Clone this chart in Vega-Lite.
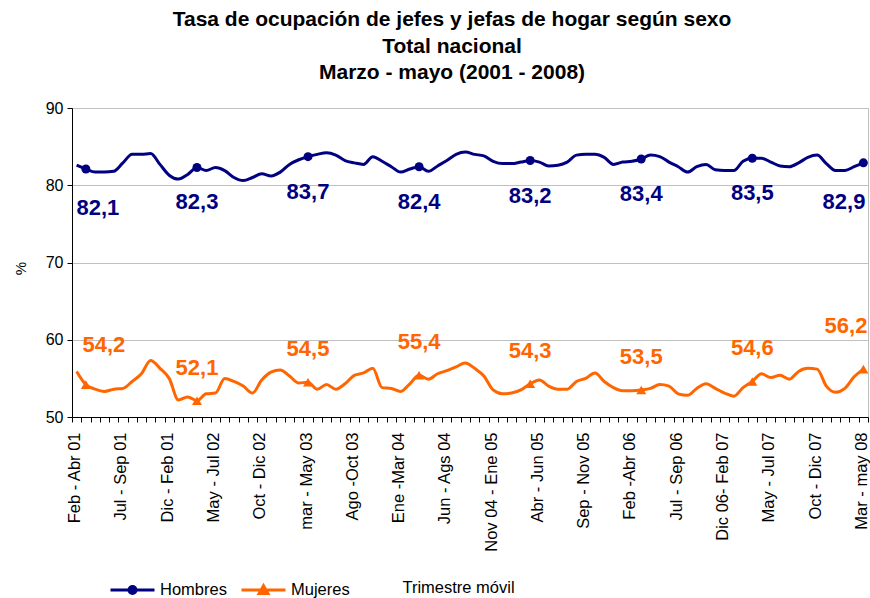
{
  "$schema": "https://vega.github.io/schema/vega-lite/v6.json",
  "width": 796,
  "height": 309,
  "autosize": {"type": "none"},
  "padding": {"left": 72, "top": 108, "right": 2, "bottom": 181},
  "config": {
    "locale": {"number": {"decimal": ",", "thousands": ".", "grouping": [3], "currency": ["", ""]}},
    "font": "Liberation Sans, Arial, sans-serif",
    "view": {"stroke": "#c0c0c0", "strokeWidth": 1},
    "axis": {"labelColor": "#000", "titleColor": "#000", "domainColor": "#000", "tickColor": "#000", "titleFontWeight": "normal"}
  },
  "title": {
    "text": ["Tasa de ocupación de jefes y jefas de hogar según sexo", "Total nacional", "Marzo - mayo (2001 - 2008)"],
    "fontSize": 21, "fontWeight": "bold", "lineHeight": 26.5, "anchor": "middle", "frame": "group", "dx": -18, "offset": 17, "color": "#000"
  },
  "data": {"values": [
    {"periodo": "Feb - Abr 01", "Hombres": 82.6, "Mujeres": 55.9},
    {"periodo": "Mar - May 01", "Hombres": 82.1, "Mujeres": 54.2},
    {"periodo": "Abr - Jun 01", "Hombres": 81.7, "Mujeres": 53.6},
    {"periodo": "May - Jul 01", "Hombres": 81.7, "Mujeres": 53.3},
    {"periodo": "Jun - Ago 01", "Hombres": 81.8, "Mujeres": 53.6},
    {"periodo": "Jul - Sep 01", "Hombres": 82.9, "Mujeres": 53.7},
    {"periodo": "Ago - Oct 01", "Hombres": 84.0, "Mujeres": 54.6},
    {"periodo": "Sep - Nov 01", "Hombres": 84.0, "Mujeres": 55.6},
    {"periodo": "Oct - Dic 01", "Hombres": 84.1, "Mujeres": 57.3},
    {"periodo": "Nov 01 - Ene 02", "Hombres": 82.7, "Mujeres": 56.3},
    {"periodo": "Dic - Feb 01", "Hombres": 81.3, "Mujeres": 55.0},
    {"periodo": "Ene - Mar 02", "Hombres": 80.8, "Mujeres": 52.2},
    {"periodo": "Feb - Abr 02", "Hombres": 81.4, "Mujeres": 52.6},
    {"periodo": "Mar - May 02", "Hombres": 82.3, "Mujeres": 52.1},
    {"periodo": "Abr - Jun 02", "Hombres": 81.9, "Mujeres": 53.0},
    {"periodo": "May - Jul 02", "Hombres": 82.3, "Mujeres": 53.1},
    {"periodo": "Jun - Ago 02", "Hombres": 81.9, "Mujeres": 55.0},
    {"periodo": "Jul - Sep 02", "Hombres": 81.0, "Mujeres": 54.6},
    {"periodo": "Ago - Oct 02", "Hombres": 80.6, "Mujeres": 54.0},
    {"periodo": "Sep - Nov 02", "Hombres": 81.0, "Mujeres": 53.1},
    {"periodo": "Oct - Dic 02", "Hombres": 81.5, "Mujeres": 54.8},
    {"periodo": "Nov 02 - Ene 03", "Hombres": 81.2, "Mujeres": 55.8},
    {"periodo": "Dic 02 - Feb 03", "Hombres": 81.7, "Mujeres": 56.1},
    {"periodo": "Ene - Mar 03", "Hombres": 82.7, "Mujeres": 55.3},
    {"periodo": "Feb - Abr 03", "Hombres": 83.3, "Mujeres": 54.4},
    {"periodo": "mar - May 03", "Hombres": 83.7, "Mujeres": 54.5},
    {"periodo": "Abr - Jun 03", "Hombres": 84.0, "Mujeres": 53.6},
    {"periodo": "May - Jul 03", "Hombres": 84.2, "Mujeres": 54.2},
    {"periodo": "Jun - Ago 03", "Hombres": 83.9, "Mujeres": 53.6},
    {"periodo": "Jul - Sep 03", "Hombres": 83.2, "Mujeres": 54.3},
    {"periodo": "Ago -Oct 03", "Hombres": 82.9, "Mujeres": 55.4},
    {"periodo": "Sep - Nov 03", "Hombres": 82.7, "Mujeres": 55.7},
    {"periodo": "Oct - Dic 03", "Hombres": 83.7, "Mujeres": 56.3},
    {"periodo": "Nov 03 - Ene 04", "Hombres": 83.1, "Mujeres": 53.8},
    {"periodo": "Dic 03 - Feb 04", "Hombres": 82.4, "Mujeres": 53.7},
    {"periodo": "Ene -Mar 04", "Hombres": 81.7, "Mujeres": 53.3},
    {"periodo": "Feb - Abr 04", "Hombres": 82.1, "Mujeres": 54.3},
    {"periodo": "Mar - May 04", "Hombres": 82.4, "Mujeres": 55.4},
    {"periodo": "Abr - Jun 04", "Hombres": 81.8, "Mujeres": 54.9},
    {"periodo": "May - Jul 04", "Hombres": 82.5, "Mujeres": 55.6},
    {"periodo": "Jun - Ags 04", "Hombres": 83.2, "Mujeres": 56.0},
    {"periodo": "Jul - Sep 04", "Hombres": 84.0, "Mujeres": 56.5},
    {"periodo": "Ago - Oct 04", "Hombres": 84.3, "Mujeres": 57.0},
    {"periodo": "Sep - Nov 04", "Hombres": 84.0, "Mujeres": 56.3},
    {"periodo": "Oct - Dic 04", "Hombres": 83.8, "Mujeres": 55.3},
    {"periodo": "Nov 04 - Ene 05", "Hombres": 83.1, "Mujeres": 53.5},
    {"periodo": "Dic 04 - Feb 05", "Hombres": 82.8, "Mujeres": 53.0},
    {"periodo": "Ene - Mar 05", "Hombres": 82.8, "Mujeres": 53.1},
    {"periodo": "Feb - Abr 05", "Hombres": 83.0, "Mujeres": 53.5},
    {"periodo": "Mar - May 05", "Hombres": 83.2, "Mujeres": 54.3},
    {"periodo": "Abr - Jun 05", "Hombres": 83.0, "Mujeres": 54.8},
    {"periodo": "May - Jul 05", "Hombres": 82.5, "Mujeres": 54.0},
    {"periodo": "Jun - Ago 05", "Hombres": 82.6, "Mujeres": 53.6},
    {"periodo": "Jul - Sep 05", "Hombres": 83.0, "Mujeres": 53.6},
    {"periodo": "Ago - Oct 05", "Hombres": 83.9, "Mujeres": 54.6},
    {"periodo": "Sep - Nov 05", "Hombres": 84.0, "Mujeres": 55.0},
    {"periodo": "Oct - Dic 05", "Hombres": 84.0, "Mujeres": 55.7},
    {"periodo": "Nov 05 - Ene 06", "Hombres": 83.6, "Mujeres": 54.6},
    {"periodo": "Dic 05 - Feb 06", "Hombres": 82.7, "Mujeres": 53.8},
    {"periodo": "Ene - Mar 06", "Hombres": 83.0, "Mujeres": 53.4},
    {"periodo": "Feb -Abr 06", "Hombres": 83.1, "Mujeres": 53.4},
    {"periodo": "Mar - May 06", "Hombres": 83.4, "Mujeres": 53.5},
    {"periodo": "Abr - Jun 06", "Hombres": 83.9, "Mujeres": 53.7},
    {"periodo": "May - Jul 06", "Hombres": 83.7, "Mujeres": 54.2},
    {"periodo": "Jun - Ago 06", "Hombres": 83.0, "Mujeres": 54.0},
    {"periodo": "Jul - Sep 06", "Hombres": 82.4, "Mujeres": 53.0},
    {"periodo": "Ago - Oct 06", "Hombres": 81.7, "Mujeres": 52.8},
    {"periodo": "Sep - Nov 06", "Hombres": 82.4, "Mujeres": 53.7},
    {"periodo": "Oct - Dic 06", "Hombres": 82.7, "Mujeres": 54.3},
    {"periodo": "Nov 06 - Ene 07", "Hombres": 82.0, "Mujeres": 53.7},
    {"periodo": "Dic  06- Feb 07", "Hombres": 81.9, "Mujeres": 53.1},
    {"periodo": "Ene - Mar 07", "Hombres": 81.9, "Mujeres": 52.7},
    {"periodo": "Feb - Abr 07", "Hombres": 83.1, "Mujeres": 53.8},
    {"periodo": "Mar - May 07", "Hombres": 83.5, "Mujeres": 54.6},
    {"periodo": "Abr - Jun 07", "Hombres": 83.5, "Mujeres": 55.6},
    {"periodo": "May - Jul 07", "Hombres": 83.0, "Mujeres": 55.1},
    {"periodo": "Jun - Ago 07", "Hombres": 82.5, "Mujeres": 55.4},
    {"periodo": "Jul - Sep 07", "Hombres": 82.4, "Mujeres": 54.9},
    {"periodo": "Ago - Oct 07", "Hombres": 82.9, "Mujeres": 55.9},
    {"periodo": "Sep - Nov 07", "Hombres": 83.6, "Mujeres": 56.3},
    {"periodo": "Oct - Dic 07", "Hombres": 83.9, "Mujeres": 56.2},
    {"periodo": "Nov 07 - Ene 08", "Hombres": 82.8, "Mujeres": 54.0},
    {"periodo": "Dic 07 - Feb 08", "Hombres": 81.9, "Mujeres": 53.2},
    {"periodo": "Ene - Mar 08", "Hombres": 81.9, "Mujeres": 53.7},
    {"periodo": "Feb - Abr 08", "Hombres": 82.4, "Mujeres": 55.2},
    {"periodo": "Mar - may 08", "Hombres": 82.9, "Mujeres": 56.2}
  ]},
  "transform": [{"fold": ["Hombres", "Mujeres"], "as": ["sexo", "valor"]}],
  "encoding": {
    "x": {
      "field": "periodo", "type": "ordinal", "sort": null,
      "scale": {"type": "band", "paddingInner": 0, "paddingOuter": 0},
      "axis": {
        "title": "Trimestre móvil", "titleFontSize": 16.5, "titleX": 386, "titleY": 170, "titleBaseline": "middle", "titleAlign": "center", "titleAnchor": null,
        "labelAngle": -90, "labelAlign": "right", "labelBaseline": "middle", "labelFontSize": 16.5, "labelPadding": 10, "labelOffset": -2, "labelOverlap": false, "labelBound": false, "labelFlush": false,
        "labelExpr": "indexof(['Feb - Abr 01','Jul - Sep 01','Dic - Feb 01','May - Jul 02','Oct - Dic 02','mar - May 03','Ago -Oct 03','Ene -Mar 04','Jun - Ags 04','Nov 04 - Ene 05','Abr - Jun 05','Sep - Nov 05','Feb -Abr 06','Jul - Sep 06','Dic  06- Feb 07','May - Jul 07','Oct - Dic 07','Mar - may 08'], datum.value) >= 0 ? datum.value : ''",
        "tickBand": "extent", "tickSize": 5, "grid": false
      }
    },
    "y": {
      "field": "valor", "type": "quantitative",
      "scale": {"domain": [50, 90], "nice": false, "zero": false},
      "axis": {
        "title": "%", "titleFontSize": 15, "titleX": -52, "titleY": 160, "titleAngle": -90, "titleAlign": "center", "titleBaseline": "middle",
        "values": [50, 60, 70, 80, 90], "labelFontSize": 16, "labelPadding": 4, "tickSize": 5, "grid": true, "gridColor": "#c0c0c0", "gridWidth": 1
      }
    },
    "color": {"field": "sexo", "type": "nominal", "scale": {"domain": ["Hombres", "Mujeres"], "range": ["#000080", "#FF6600"]}, "legend": null}
  },
  "layer": [
    {
      "mark": {"type": "line", "strokeWidth": 3, "interpolate": "monotone", "strokeJoin": "round"},
      "encoding": {
        "color": {
          "field": "sexo", "type": "nominal",
          "scale": {"domain": ["Hombres", "Mujeres"], "range": ["#000080", "#FF6600"]},
          "legend": {
            "title": null, "orient": "none", "legendX": 37, "legendY": 458, "direction": "horizontal",
            "symbolSize": 1936, "symbolStrokeWidth": 3, "labelFontSize": 16.5, "labelOffset": 4, "columnPadding": 8, "labelColor": "#000", "padding": 0,
            "encode": {"symbols": {"update": {
              "shape": {"signal": "datum.value === 'Hombres' ? 'M-1,0H1M-0.16,0A0.16,0.16,0,1,0,0.16,0A0.16,0.16,0,1,0,-0.16,0Z' : 'M-1,0H1M0,-0.2L0.2,0.15L-0.2,0.15Z'"},
              "fill": {"scale": "color", "field": "value"},
              "stroke": {"scale": "color", "field": "value"},
              "opacity": {"value": 1}
            }}}
          }
        }
      }
    },
    {
      "transform": [{"filter": {"and": [{"field": "sexo", "equal": "Hombres"}, {"field": "periodo", "oneOf": ["Mar - May 01", "Mar - May 02", "mar - May 03", "Mar - May 04", "Mar - May 05", "Mar - May 06", "Mar - May 07", "Mar - may 08"]}]}}],
      "mark": {"type": "point", "shape": "circle", "filled": true, "opacity": 1, "size": 81}
    },
    {
      "transform": [{"filter": {"and": [{"field": "sexo", "equal": "Mujeres"}, {"field": "periodo", "oneOf": ["Mar - May 01", "Mar - May 02", "mar - May 03", "Mar - May 04", "Mar - May 05", "Mar - May 06", "Mar - May 07", "Mar - may 08"]}]}}],
      "mark": {"type": "point", "shape": "triangle-up", "filled": true, "opacity": 1, "size": 100}
    },
    {
      "transform": [{"filter": {"and": [{"field": "sexo", "equal": "Hombres"}, {"field": "periodo", "oneOf": ["Mar - May 02", "mar - May 03", "Mar - May 04", "Mar - May 05", "Mar - May 06", "Mar - May 07"]}]}}],
      "mark": {"type": "text", "fontSize": 22, "fontWeight": "bold", "align": "center", "baseline": "middle", "dy": 35},
      "encoding": {"text": {"field": "valor", "type": "quantitative", "format": ".1f"}}
    },
    {
      "transform": [{"filter": {"and": [{"field": "sexo", "equal": "Hombres"}, {"field": "periodo", "equal": "Mar - May 01"}]}}],
      "mark": {"type": "text", "fontSize": 22, "fontWeight": "bold", "align": "center", "baseline": "middle", "dx": 12, "dy": 39},
      "encoding": {"text": {"field": "valor", "type": "quantitative", "format": ".1f"}}
    },
    {
      "transform": [{"filter": {"and": [{"field": "sexo", "equal": "Hombres"}, {"field": "periodo", "equal": "Mar - may 08"}]}}],
      "mark": {"type": "text", "fontSize": 22, "fontWeight": "bold", "align": "right", "baseline": "middle", "dx": 2, "dy": 39},
      "encoding": {"text": {"field": "valor", "type": "quantitative", "format": ".1f"}}
    },
    {
      "transform": [{"filter": {"and": [{"field": "sexo", "equal": "Mujeres"}, {"field": "periodo", "oneOf": ["Mar - May 02", "mar - May 03", "Mar - May 04", "Mar - May 05", "Mar - May 06", "Mar - May 07"]}]}}],
      "mark": {"type": "text", "fontSize": 22, "fontWeight": "bold", "align": "center", "baseline": "middle", "dy": -33},
      "encoding": {"text": {"field": "valor", "type": "quantitative", "format": ".1f"}}
    },
    {
      "transform": [{"filter": {"and": [{"field": "sexo", "equal": "Mujeres"}, {"field": "periodo", "equal": "Mar - May 01"}]}}],
      "mark": {"type": "text", "fontSize": 22, "fontWeight": "bold", "align": "center", "baseline": "middle", "dx": 18, "dy": -40},
      "encoding": {"text": {"field": "valor", "type": "quantitative", "format": ".1f"}}
    },
    {
      "transform": [{"filter": {"and": [{"field": "sexo", "equal": "Mujeres"}, {"field": "periodo", "equal": "Mar - may 08"}]}}],
      "mark": {"type": "text", "fontSize": 22, "fontWeight": "bold", "align": "right", "baseline": "middle", "dx": 4, "dy": -43},
      "encoding": {"text": {"field": "valor", "type": "quantitative", "format": ".1f"}}
    }
  ]
}
